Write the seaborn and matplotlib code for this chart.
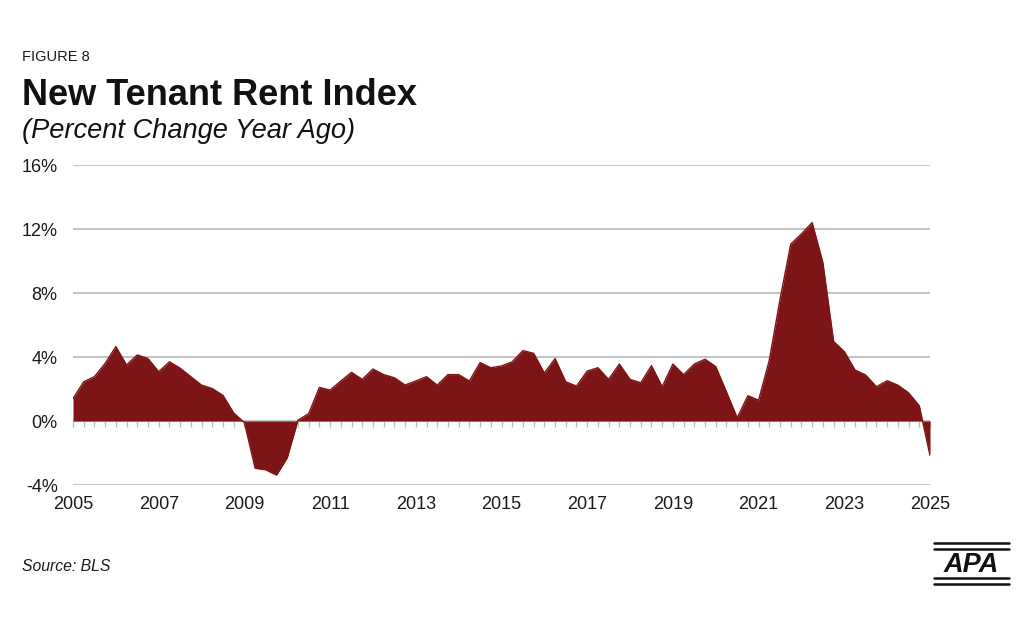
import numpy as np
import pandas as pd
import matplotlib
matplotlib.use("Agg")
import matplotlib.pyplot as plt
from matplotlib.lines import Line2D
import seaborn as sns

# ---- data (quarterly, % change year ago) ----
start_year = 2005
values = [
    1.4, 2.45, 2.77, 3.6,      # 2005
    4.65, 3.5, 4.13, 3.9,      # 2006
    3.08, 3.7, 3.3, 2.77,      # 2007
    2.24, 2.03, 1.6, 0.5,      # 2008
    -0.1, -2.95, -3.05, -3.38, # 2009
    -2.3, 0.05, 0.46, 2.1,     # 2010
    1.93, 2.5, 3.04, 2.6,      # 2011
    3.25, 2.9, 2.7, 2.25,      # 2012
    2.5, 2.77, 2.24, 2.9,      # 2013
    2.9, 2.5, 3.65, 3.33,      # 2014
    3.44, 3.7, 4.4, 4.23,      # 2015
    3.0, 3.9, 2.45, 2.18,      # 2016
    3.12, 3.33, 2.6, 3.56,     # 2017
    2.6, 2.39, 3.46, 2.14,     # 2018
    3.56, 2.9, 3.56, 3.86,     # 2019
    3.4, 1.82, 0.2, 1.58,      # 2020
    1.3, 3.8, 7.6, 11.05,      # 2021
    11.7, 12.4, 9.9, 4.97,     # 2022
    4.34, 3.19, 2.87, 2.14,    # 2023
    2.52, 2.24, 1.76, 0.95,    # 2024
    -2.16,                     # 2025 Q1
]
year_ticks = [2005, 2007, 2009, 2011, 2013, 2015, 2017, 2019, 2021, 2023, 2025]
y_ticks = [-4, 0, 4, 8, 12, 16]
y_tick_labels = ["-4%", "0%", "4%", "8%", "12%", "16%"]

df = pd.DataFrame({
    "t": start_year + np.arange(len(values)) / 4.0,
    "v": values,
})

RED = "#7D1416"
GRID = "#c4c4c4"
TXT = "#1a1a1a"

sns.set_style("white")
plt.rcParams["font.family"] = ["Liberation Sans", "DejaVu Sans"]

W, H = 1026, 643
fig = plt.figure(figsize=(W / 100, H / 100), dpi=100)
ax = fig.add_axes([73 / W, 1 - 485 / H, (930 - 73) / W, (485 - 165) / H])

ax.fill_between(df["t"], df["v"], 0, color=RED, linewidth=0, zorder=2)
sns.lineplot(data=df, x="t", y="v", ax=ax, color=RED, linewidth=1.0, zorder=3)

ax.set_xlim(2005, 2025)
ax.set_ylim(-4, 16)
ax.set_yticks(y_ticks)
ax.set_yticklabels(y_tick_labels)
ax.set_xticks(year_ticks)
ax.set_xticklabels([str(y) for y in year_ticks])
ax.set_xlabel("")
ax.set_ylabel("")
for s in ax.spines.values():
    s.set_visible(False)
ax.grid(axis="y", color=GRID, linewidth=1.5, zorder=1)
ax.grid(axis="x", visible=False)
ax.tick_params(axis="both", length=0, labelsize=13, colors=TXT)
ax.tick_params(axis="y", pad=11)
ax.tick_params(axis="x", pad=8)

# quarterly tick marks along the zero line
sec = ax.secondary_xaxis(0.2)
sec.set_xticks(df["t"])
sec.set_xticklabels([])
sec.tick_params(axis="x", direction="out", length=4, width=0.9, color="#bdbdbd")
sec.spines["bottom"].set_visible(False)

# ---- texts ----
def fy(px):
    return 1 - px / H

fig.text(22 / W, fy(61), "FIGURE 8", fontsize=10.5, color=TXT, va="baseline")
fig.text(22 / W, fy(105), "New Tenant Rent Index", fontsize=26, fontweight="bold",
         color="#111111", va="baseline")
fig.text(22 / W, fy(138), "(Percent Change Year Ago)", fontsize=19.6, style="italic",
         color="#111111", va="baseline")
fig.text(22 / W, fy(571), "Source: BLS", fontsize=11.3, style="italic",
         color=TXT, va="baseline")

# APA logo
for ypx in (543, 549, 578, 584):
    fig.add_artist(Line2D([934 / W, 1009 / W], [fy(ypx), fy(ypx)],
                          color="#111111", linewidth=1.8, transform=fig.transFigure))
fig.text(971 / W, fy(572.5), "APA", fontsize=19.5, fontweight="bold", style="italic",
         color="#111111", ha="center", va="baseline")

fig.savefig("out.png", dpi=100, facecolor="white")
